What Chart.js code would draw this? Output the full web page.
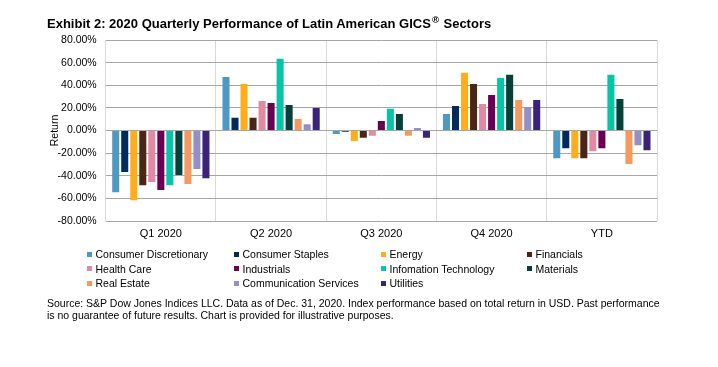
<!DOCTYPE html>
<html>
<head>
<meta charset="utf-8">
<script src="https://cdn.jsdelivr.net/npm/chart.js@4"></script>
<style>
  body { margin: 0; background: #fff; font-family: "Liberation Sans", Arial, sans-serif; }
  #wrap { position: relative; width: 718px; height: 367px; }
  #chart1 { position: absolute; left: 0; top: 0; }
  #title { position: absolute; left: 47px; top: 16px; font-size: 13px; line-height: 16px; font-weight: bold; color: #000; white-space: nowrap; }
  #title sup { font-size: 9.5px; line-height: 0; margin: 0 1px; }
  #legend { position: absolute; left: 87px; top: 247px; display: grid; grid-template-columns: 147px 147px 146px 140px; grid-auto-rows: 14.5px; font-size: 10.5px; color: #000; }
  .item { display: flex; align-items: center; white-space: nowrap; }
  .box { width: 5px; height: 5px; margin-right: 3.5px; }
  #source { position: absolute; left: 47px; top: 298px; font-size: 10.5px; line-height: 11.5px; color: #000; white-space: nowrap; }
</style>
</head>
<body>
<div id="wrap">
  <canvas id="chart1" width="718" height="367"></canvas>
  <div id="title">Exhibit 2: 2020 Quarterly Performance of Latin American GICS<sup>®</sup> Sectors</div>
  <div id="legend"></div>
  <div id="source">Source: S&amp;P Dow Jones Indices LLC. Data as of Dec. 31, 2020. Index performance based on total return in USD. Past performance<br>is no guarantee of future results. Chart is provided for illustrative purposes.</div>
</div>
<script>
const periods = ['Q1 2020', 'Q2 2020', 'Q3 2020', 'Q4 2020', 'YTD'];

const sectors = ['Consumer Discretionary', 'Consumer Staples', 'Energy', 'Financials',
  'Health Care', 'Industrials', 'Infomation Technology', 'Materials',
  'Real Estate', 'Communication Services', 'Utilities'];

const colors = ['#4E99C3', '#002B5C', '#FFAD1A', '#4B2616', '#E08AA5', '#6A0056',
  '#08C4A6', '#05403A', '#F7995E', '#9490C6', '#3B2379'];

// returns in %, one list per sector: Q1, Q2, Q3, Q4, YTD
const consumerDisc = [-54.5, 47.4, -3.0, 14.5, -24.6];
const consumerStaples = [-36.7, 11.3, -1.2, 21.6, -15.7];
const energy = [-61.6, 41.2, -9.2, 51.0, -24.6];
const financials = [-48.3, 11.3, -6.5, 41.2, -24.6];
const healthCare = [-45.6, 26.1, -4.7, 23.4, -18.4];
const industrials = [-52.7, 24.3, 8.3, 31.4, -15.7];
const infoTech = [-48.3, 63.4, 19.3, 46.5, 49.2];
const materials = [-39.4, 22.5, 14.5, 49.2, 27.9];
const realEstate = [-47.4, 10.1, -4.7, 27.0, -29.6];
const commServices = [-34.1, 5.6, 2.1, 20.7, -13.0];
const utilities = [-42.1, 19.9, -6.5, 27.0, -17.5];

const values = [consumerDisc, consumerStaples, energy, financials, healthCare,
  industrials, infoTech, materials, realEstate, commServices, utilities];

const yTicks = [-80, -60, -40, -20, 0, 20, 40, 60, 80];

const datasets = sectors.map((name, i) => ({
  label: name,
  data: values[i],
  backgroundColor: colors[i],
  categoryPercentage: 0.9,
  barPercentage: 0.78
}));

// legend in 4 columns, same order as the datasets
const legend = document.getElementById('legend');
sectors.forEach((name, i) => {
  const item = document.createElement('div');
  item.className = 'item';
  item.innerHTML = '<span class="box" style="background:' + colors[i] + '"></span>' + name;
  legend.appendChild(item);
});

const ctx = document.getElementById('chart1');
new Chart(ctx, {
  type: 'bar',
  data: { labels: periods, datasets: datasets },
  options: {
    responsive: false,
    animation: false,
    layout: { padding: { left: 45, right: 61, top: 40, bottom: 126 } },
    plugins: { legend: { display: false }, tooltip: { enabled: false } },
    scales: {
      x: {
        grid: { color: '#D9D9D9', offset: true, drawTicks: false },
        border: { display: false },
        ticks: { color: '#000', padding: 6, font: { family: 'Liberation Sans', size: 11 } },
        afterFit: s => { s.height = 20; }
      },
      y: {
        min: -80,
        max: 80,
        afterBuildTicks: s => { s.ticks = yTicks.map(v => ({ value: v })); },
        grid: { color: '#A6A6A6', drawTicks: false },
        border: { display: false },
        ticks: {
          color: '#000',
          padding: 9,
          font: { family: 'Liberation Sans', size: 10.5 },
          callback: v => v.toFixed(2) + '%'
        },
        title: {
          display: true,
          text: 'Return',
          color: '#000',
          padding: { top: 4, bottom: 0 },
          font: { family: 'Liberation Sans', size: 10.5 }
        },
        afterFit: s => { s.width = 60.7; }
      }
    }
  }
});
</script>
</body>
</html>
